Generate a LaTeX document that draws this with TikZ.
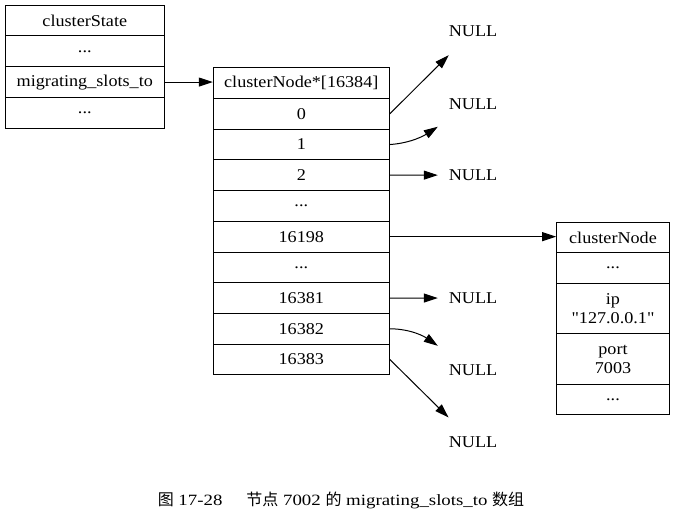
\documentclass[tikz,border=0pt]{standalone}
\usepackage{fontspec}
\setmainfont{Liberation Serif}[FakeStretch=1.1]
\newfontfamily\plainserif{Liberation Serif}[FakeStretch=1.1]
\newfontfamily\capfont{Liberation Serif}[FakeStretch=1.2]
\newfontfamily\cjk{Noto Sans CJK SC}
\usetikzlibrary{arrows.meta}
\newcommand{\tdots}{.{}.{}.}
\begin{document}
\begin{tikzpicture}[x=1pt,y=1pt,
  cell/.style={draw, line width=1pt, inner sep=0pt, anchor=north,
    align=center, font=\fontsize{16.5}{19}\selectfont},
  nullnode/.style={minimum width=70pt, minimum height=48pt, inner sep=0pt,
    font=\fontsize{16.5}{19}\selectfont},
  link/.style={-{Triangle[length=14pt,width=9pt]}, line width=1pt},
  captiontext/.style={font=\fontsize{15.7}{18}\capfont}]
\useasboundingbox (0,0) rectangle (675,-524);

% clusterState structure
\foreach \i/\t in {0/clusterState,1/\tdots,2/migrating\_slots\_to,3/\tdots}
  \node[cell, minimum width=159pt, minimum height=30.75pt]
    (s\i) at (84.8,{-4.7-30.75*\i}) {\t};

% slot pointer array
\node[cell, minimum width=176pt, minimum height=30.7pt] (ah) at (301.3,-67.3) {clusterNode*[16384]};
\foreach \i/\t in {0/0,1/1,2/2,3/\tdots,4/16198,5/\tdots,6/16381,7/16382,8/16383}
  \node[cell, minimum width=176pt, minimum height=30.7pt]
    (a\i) at (301.3,{-98-30.7*\i}) {\t};

% target clusterNode structure
\node[cell, minimum width=112.6pt, minimum height=30.6pt] (cn0) at (613,-221.7) {clusterNode};
\node[cell, minimum width=112.6pt, minimum height=30.4pt] (cn1) at (613,-252.3) {\tdots};
\node[cell, minimum width=112.6pt, minimum height=50.6pt] (cn2) at (613,-282.7) {ip\\ {\plainserif "127.0.0.1"}};
\node[cell, minimum width=112.6pt, minimum height=50.7pt] (cn3) at (613,-333.3) {port\\ 7003};
\node[cell, minimum width=112.6pt, minimum height=30pt] (cn4) at (613,-384) {\tdots};

% NULL targets
\node[nullnode] (n1) at (473,-31) {NULL};
\node[nullnode] (n2) at (473,-104) {NULL};
\node[nullnode] (n3) at (473,-175) {NULL};
\node[nullnode] (n4) at (473,-298) {NULL};
\node[nullnode] (n5) at (473,-370) {NULL};
\node[nullnode] (n6) at (473,-441.7) {NULL};

% pointers
\draw[link] (s2.east) -- (s2.east -| ah.west);
\draw[link] (a0.east) -- (n1);
\draw[link] (a1.east) .. controls (412,-143) and (425,-135) .. (n2);
\draw[link] (a2.east) -- (n3);
\draw[link] (a4.east) -- (a4.east -| cn0.west);
\draw[link] (a6.east) -- (n4);
\draw[link] (a7.east) .. controls (412,-329) and (425,-337) .. (n5);
\draw[link] (a8.east) -- (n6);

% caption
\node[captiontext] (cap) at (341,-500)
  {{\cjk\fontsize{16}{18}\selectfont 图} 17-28\hspace{24pt}{\cjk\fontsize{16}{18}\selectfont 节点} 7002 {\cjk\fontsize{16}{18}\selectfont 的} migrating\_slots\_to {\cjk\fontsize{16}{18}\selectfont 数组}};
\end{tikzpicture}
\end{document}
